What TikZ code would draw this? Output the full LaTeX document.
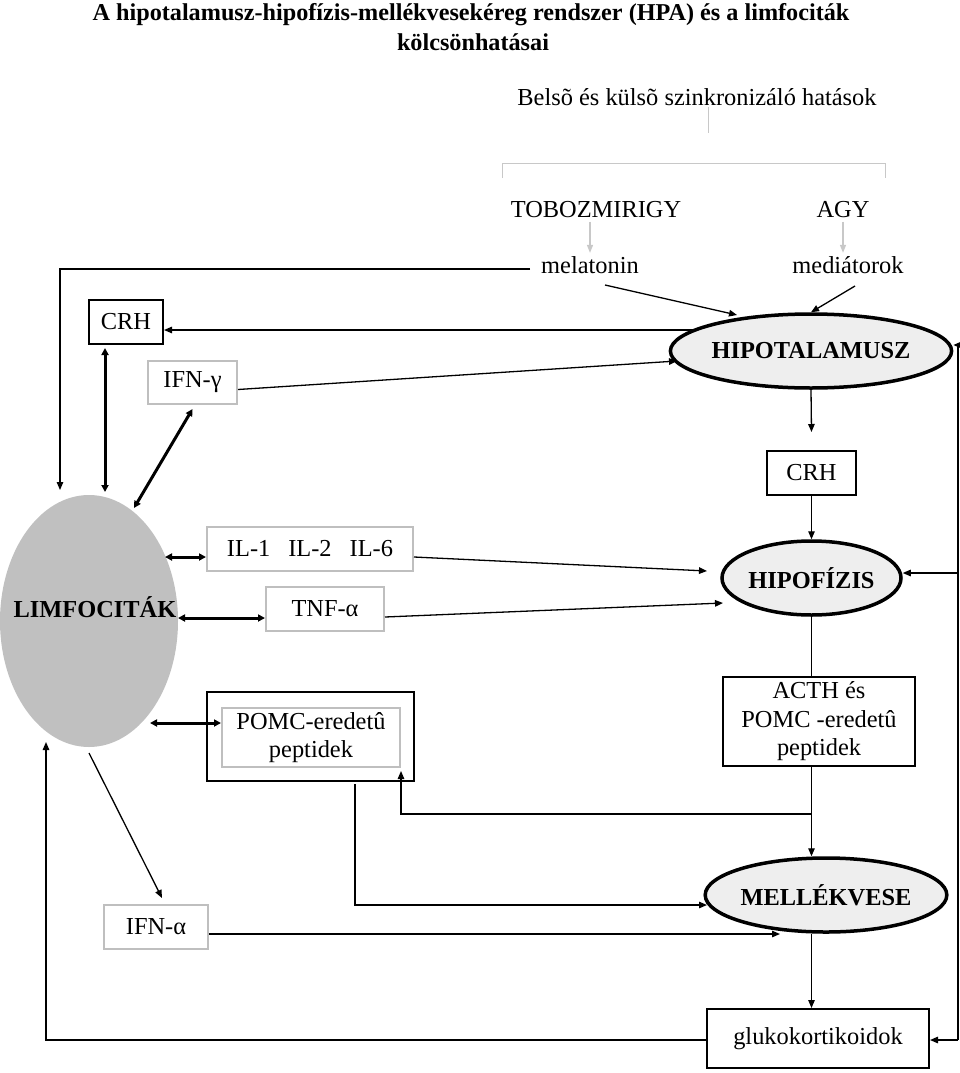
\documentclass[tikz,border=0pt]{standalone}
\usepackage{fontspec}
\setmainfont{Liberation Serif}
\usetikzlibrary{shapes.geometric,arrows.meta,calc}
\definecolor{limgray}{HTML}{C0C0C0}
\definecolor{efill}{HTML}{EEEEEE}
\definecolor{bgray}{HTML}{BFBFBF}
\definecolor{tgray}{HTML}{C8C8C8}
\begin{document}
\begin{tikzpicture}[x=1pt,y=-1pt,
  font=\fontsize{24.4}{28}\selectfont,
  box/.style={draw=black, line width=2pt, inner sep=0pt, align=center},
  gbox/.style={draw=bgray, line width=2pt, inner sep=0pt, align=center},
  oval/.style={ellipse, draw=black, line width=3.5pt, fill=efill, inner sep=0pt, font=\fontsize{24.4}{28}\selectfont\bfseries},
  arr/.style={line width=1.3pt, -{Triangle[length=8pt,width=6.5pt]}},
  dbl/.style={line width=3pt, {Triangle[length=7pt,width=7pt]}-{Triangle[length=7pt,width=7pt]}},
  garr/.style={draw=tgray, line width=1.3pt, -{Triangle[length=8pt,width=6pt]}},
  gline/.style={draw=tgray, line width=1pt},
  ln/.style={line width=1.3pt}]
\useasboundingbox (0,0) rectangle (960,1073);

% titles
\node[font=\fontsize{24.2}{28}\selectfont\bfseries] (t1) at (471,15) {A hipotalamusz-hipofízis-mellékvesekéreg rendszer (HPA) és a limfociták};
\node[font=\fontsize{24.2}{28}\selectfont\bfseries] (t2) at (473,42) {kölcsönhatásai};
\node (belso) at (697,97) {Belsõ és külsõ szinkronizáló hatások};

% top bracket
\draw[gline] ($(belso)+(11,10)$) -- ($(belso)+(11,36)$);
\coordinate (bl) at (502,178);
\coordinate (br) at (885,178);
\draw[gline] (bl) -- ++(0,-15) -| (br);

\node (tobo) at (596,210) {TOBOZMIRIGY};
\node (agy) at (843,210) {AGY};
\node (mel) at (590,265) {melatonin};
\node (med) at (848,265) {mediátorok};

% main nodes
\node[oval, minimum width=266pt, minimum height=74pt] (hyp) at (811,351) {HIPOTALAMUSZ};
\node[box, minimum width=74pt, minimum height=44pt] (crhL) at (126,322) {CRH};
\node[gbox, minimum width=89pt, minimum height=43pt] (ifng) at (192.5,382.5) {IFN-γ};
\node[box, minimum width=89pt, minimum height=44pt] (crhR) at (811.5,473) {CRH};
\node[oval, minimum width=179pt, minimum height=74pt] (hipo) at (811.5,578) {HIPOFÍZIS};

\node[ellipse, fill=limgray, minimum width=178pt, minimum height=252pt, inner sep=0pt] (limfo) at (89,621) {};
\node[font=\fontsize{24.4}{28}\selectfont\bfseries, inner sep=0pt] (limfoT) at (95,607) {LIMFOCITÁK};

\node[gbox, minimum width=206pt, minimum height=44pt] (il) at (310,549) {IL-1\hspace{18pt}IL-2\hspace{18pt}IL-6};
\node[gbox, minimum width=118pt, minimum height=44pt] (tnf) at (325,609) {TNF-α};

\node[box, minimum width=207pt, minimum height=89pt] (pomcO) at (310.5,736.5) {};
\node[gbox, minimum width=178pt, minimum height=59pt] (pomcI) at (311,737.5) {POMC-eredetû\\peptidek};

\node[box, minimum width=192pt, minimum height=89pt, font=\fontsize{24.4}{28.5}\selectfont] (acth) at (819,721.5) {ACTH és\\POMC -eredetû\\peptidek};
\node[oval, minimum width=209pt, minimum height=74pt] (mell) at (826,895) {MELLÉKVESE};
\node[gbox, minimum width=104pt, minimum height=44pt] (ifna) at (156,927) {IFN-α};
\node[box, minimum width=222pt, minimum height=59pt] (gluko) at (818,1038.5) {glukokortikoidok};

% gray arrows
\draw[garr] (tobo.south -| mel.north) -- (mel.north);
\draw[garr] (agy.south) -- (agy.south |- med.north);

% melatonin / mediators
\draw[arr] ($(mel)+(-60,4)$) -| ($(limfo)+(-29,-131)$);
\draw[arr] ($(mel)+(15,20)$) -- ($(hyp)+(-74,-36)$);
\draw[arr] ($(med)+(7,21)$) -- (hyp.north);

% hypothalamus to left CRH
\coordinate (c4) at ($(hyp)+(-118,-21)$);
\draw[arr] (c4) -- (c4 -| crhL.east);
\draw[dbl] ($(crhL.south)+(-21,3)$) -- ($(limfo)+(16,-129)$);
\draw[dbl] ($(ifng.south)+(0,4)$) -- ($(limfo)+(45,-113)$);
\draw[arr] ($(ifng.east)+(0,7)$) -- ($(hyp)+(-134,10)$);

% axis
\draw[arr] (hyp.south) -- ($(crhR.north)+(0,-18)$);
\draw[arr] (crhR.south) -- (hipo.north);
\draw[arr] ($(il.east)+(0,8)$) -- ($(hipo)+(-104.5,-7)$);
\draw[arr] ($(tnf.east)+(0,8)$) -- ($(hipo)+(-88.5,25)$);
\draw[dbl] ($(limfo)+(76,-64)$) -- ($(il.west)+(0,8)$);
\draw[dbl] ($(limfo)+(89,-3)$) -- ($(tnf.west)+(0,9)$);
\draw[dbl] ($(limfo)+(61,102)$) -- ($(pomcI.west)+(0,-14.5)$);

\draw[ln] (hipo.south) -- (hipo.south |- acth.north);
\draw[arr] (hipo.south |- acth.south) -- (hipo.south |- mell.north);
\coordinate (j1) at ($(acth.south)+(-7.5,47)$);
\draw[arr] (j1) -| ($(pomcI.south east)+(0,3)$);
\draw[arr] ($(pomcO.south)+(44.5,2)$) |- ($(mell)+(-119,10)$);
\draw[arr] ($(ifna.east)+(0,7)$) -- ($(mell)+(-46,39)$);
\draw[arr] ($(limfo)+(0,132)$) -- ($(ifna.north)+(6,-6)$);
\draw[arr] (hipo.south |- mell.south) -- (hipo.south |- gluko.north);
\draw[arr] ($(gluko.west)+(0,1.5)$) -| ($(limfo)+(-43,121)$);

% right feedback line
\coordinate (rtop) at (958,345);
\coordinate (rmid) at (958,573);
\coordinate (rbot) at (958,1040);
\draw[ln] (rtop) -- (rbot);
\draw[arr] (rtop) -- (rtop -| hyp.east);
\draw[arr] (rmid) -- (rmid -| hipo.east);
\draw[arr] (rbot) -- (rbot -| gluko.east);
\end{tikzpicture}
\end{document}
